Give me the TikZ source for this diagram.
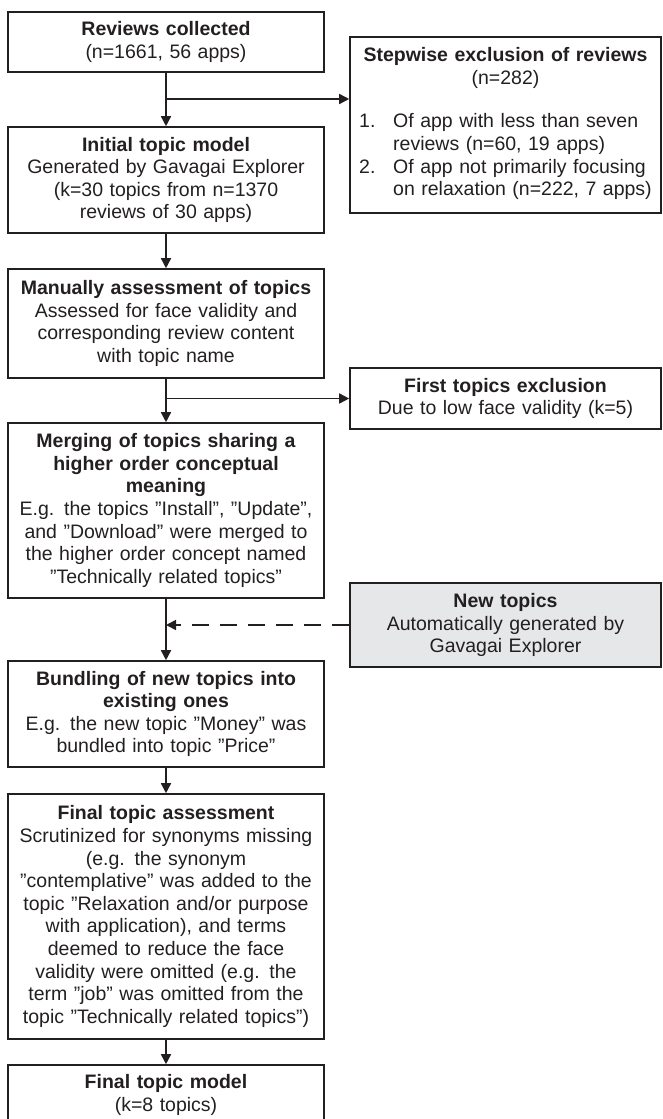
\documentclass[tikz,border=0pt]{standalone}
\usepackage{fontspec}
\setmainfont{Liberation Sans}
\usetikzlibrary{arrows.meta,calc}
\definecolor{ink}{HTML}{231F20}
\definecolor{shade}{HTML}{E6E7E8}
\begin{document}
\begin{tikzpicture}[x=1pt,y=-1pt,
  every node/.style={font=\fontsize{19.5}{22.6}\selectfont, text=ink},
  flowbox/.style={draw=ink, line width=1.6pt, inner sep=0pt, align=center, text width=312pt, minimum width=316pt},
  sidebox/.style={draw=ink, line width=1.6pt, inner sep=0pt, align=center, text width=307pt, minimum width=311pt},
  arr/.style={draw=ink, line width=1.6pt, -{Triangle[length=10pt,width=10pt]}},
  dasharr/.style={arr, dash pattern=on 17pt off 11pt}]
\useasboundingbox (0,0) rectangle (662,1119);
% main column
\node[flowbox, minimum height=60pt] (b1) at (166,42) {\textbf{Reviews collected}\\(n=1661, 56 apps)};
\node[flowbox, minimum height=106pt] (b2) at (166,180) {\textbf{Initial topic model}\\Generated by Gavagai Explorer\\(k=30 topics from n=1370\\reviews of 30 apps)};
\node[flowbox, minimum height=109pt] (b3) at (166,323.5) {\textbf{Manually assessment of topics}\\Assessed for face validity and\\corresponding review content\\with topic name};
\node[flowbox, minimum height=175pt] (b4) at (166,510.5) {\textbf{Merging of topics sharing a}\\\textbf{higher order conceptual}\\\textbf{meaning}\\E.g. the topics ”Install”, ”Update”,\\and ”Download” were merged to\\the higher order concept named\\”Technically related topics”};
\node[flowbox, minimum height=106pt] (b5) at (166,714) {\textbf{Bundling of new topics into}\\\textbf{existing ones}\\E.g. the new topic ”Money” was\\bundled into topic ”Price”};
\node[flowbox, minimum height=245pt] (b6) at (166,916.5) {\textbf{Final topic assessment}\\Scrutinized for synonyms missing\\(e.g. the synonym\\”contemplative” was added to the\\topic ”Relaxation and/or purpose\\with application), and terms\\deemed to reduce the face\\validity were omitted (e.g. the\\term ”job” was omitted from the\\topic ”Technically related topics”)};
\node[flowbox, minimum height=60pt] (b7) at (166,1095) {\textbf{Final topic model}\\(k=8 topics)};
% side column
\node[sidebox, minimum height=176pt] (excl) at (505.5,125) {\textbf{Stepwise exclusion of reviews}\\(n=282)\\[22.6pt]
\begin{tabular}{@{}l@{}l@{}}
\makebox[34pt][l]{1.}&Of app with less than seven\\
&reviews (n=60, 19 apps)\\
\makebox[34pt][l]{2.}&Of app not primarily focusing\\
&on relaxation (n=222, 7 apps)
\end{tabular}};
\node[sidebox, minimum height=61pt] (first) at (505.5,398.5) {\textbf{First topics exclusion}\\Due to low face validity (k=5)};
\node[sidebox, minimum height=84pt, fill=shade] (newt) at (505.5,625) {\textbf{New topics}\\Automatically generated by\\Gavagai Explorer};
% junctions
\coordinate (j1) at (166,99);
\coordinate (j2) at (166,398.5);
% connectors
\draw[arr] (b1) -- (b2);
\draw[arr] (j1) -- (j1 -| excl.west);
\draw[arr] (b2) -- (b3);
\draw[arr] (b3) -- (b4);
\draw[arr] (j2) -- (first.west);
\draw[arr] (b4) -- (b5);
\draw[dasharr] (newt.west) -- (newt.west -| b4.south);
\draw[arr] (b5) -- (b6);
\draw[arr] (b6) -- (b7);
\end{tikzpicture}
\end{document}
